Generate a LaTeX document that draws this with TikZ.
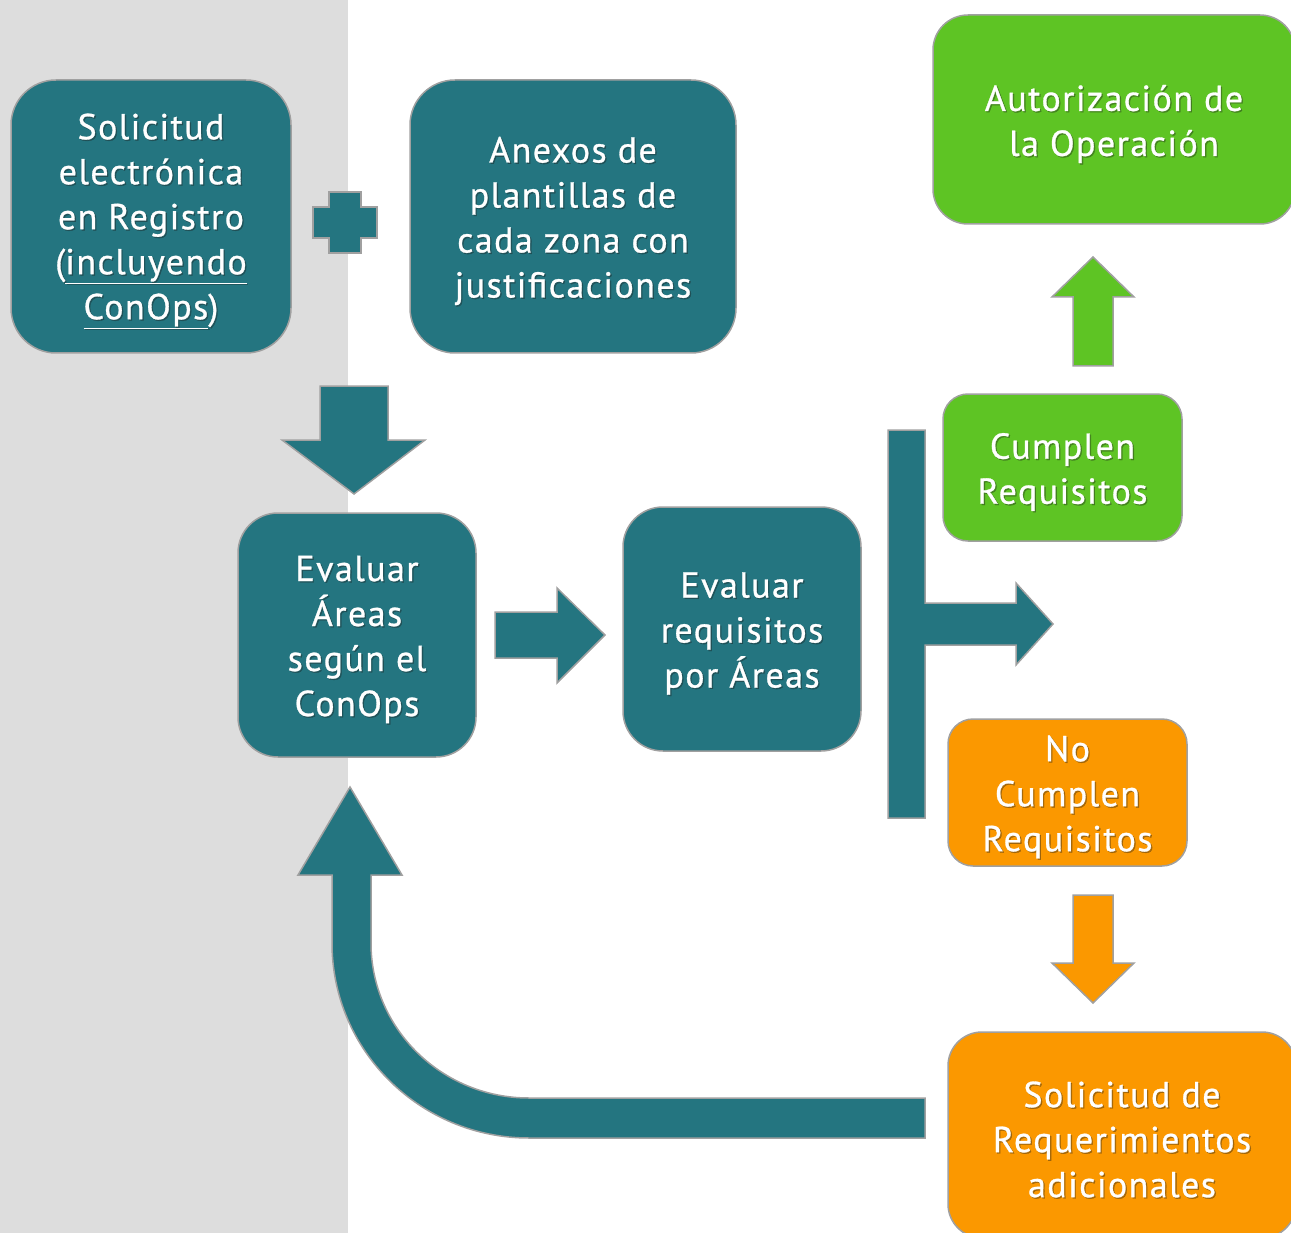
\documentclass[tikz,border=0pt]{standalone}
\usepackage{fontspec}
\setmainfont[LetterSpace=4,FakeBold=0.8]{PT Sans}
\definecolor{tealc}{RGB}{36,117,128}
\definecolor{greenc}{RGB}{94,196,36}
\definecolor{orangec}{RGB}{251,152,0}
\definecolor{bandc}{RGB}{221,221,221}
\definecolor{edgec}{RGB}{160,160,160}
\definecolor{shadowc}{RGB}{30,30,30}
\tikzset{
  box/.style={draw=edgec, line width=1.5pt, inner sep=0pt},
  tealbox/.style={box, fill=tealc},
  greenbox/.style={box, fill=greenc},
  orangebox/.style={box, fill=orangec},
  lbl/.style={inner sep=0pt, align=center, text=white, font=\fontsize{36}{45}\selectfont},
  lblshadow/.style={lbl, text=shadowc, opacity=0.35},
  blockarrow/.style={draw=edgec, line width=1.5pt, line join=miter},
}
\newcommand\boxtext[3]{%
  \node[lblshadow] (#2s) at ([xshift=1.3pt,yshift=-5.8pt]#1.center) {#3};
  \node[lbl] (#2) at ([yshift=-4.5pt]#1.center) {#3};}
\begin{document}
\begin{tikzpicture}[x=1pt,y=-1pt]
\useasboundingbox (0,0) rectangle (1291,1233);
\fill[bandc] (0,0) rectangle (348,1233);

% boxes
\node[tealbox, minimum width=280pt, minimum height=273pt, rounded corners=45pt] (sol) at (151,216.5) {};
\node[tealbox, minimum width=326pt, minimum height=273pt, rounded corners=45pt] (anx) at (573,216.5) {};
\node[greenbox, minimum width=362pt, minimum height=209pt, rounded corners=35pt] (aut) at (1114,119.5) {};
\node[greenbox, minimum width=239pt, minimum height=147pt, rounded corners=25pt] (cum) at (1062.5,467.5) {};
\node[orangebox, minimum width=239pt, minimum height=147pt, rounded corners=25pt] (nocum) at (1067.5,792.5) {};
\node[orangebox, minimum width=348pt, minimum height=206pt, rounded corners=34pt] (req) at (1122,1135) {};
\node[tealbox, minimum width=238pt, minimum height=244pt, rounded corners=40pt] (eva) at (357,635) {};
\node[tealbox, minimum width=238pt, minimum height=244pt, rounded corners=40pt] (evr) at (742,629) {};

% texts
\boxtext{sol}{solt}{Solicitud\\electrónica\\en Registro\\(\underline{incluyendo}\\\underline{ConOps})}
\boxtext{anx}{anxt}{Anexos de\\plantillas de\\cada zona con\\justificaciones}
\boxtext{aut}{autt}{Autorización de\\la Operación}
\boxtext{cum}{cumt}{Cumplen\\Requisitos}
\boxtext{nocum}{nocumt}{No\\Cumplen\\Requisitos}
\boxtext{req}{reqt}{Solicitud de\\Requerimientos\\adicionales}
\boxtext{eva}{evat}{Evaluar\\Áreas\\según el\\ConOps}
\boxtext{evr}{evrt}{Evaluar\\requisitos\\por Áreas}

% plus sign
\draw[blockarrow, fill=tealc] (329,192) -- (361,192) -- (361,207) -- (377,207) -- (377,238) -- (361,238)
  -- (361,253) -- (329,253) -- (329,238) -- (313,238) -- (313,207) -- (329,207) -- cycle;

% down teal arrow
\draw[blockarrow, fill=tealc] (320,386) -- (388,386) -- (388,440) -- (425,440) -- (354,494)
  -- (282,440) -- (320,440) -- cycle;

% right teal arrow
\draw[blockarrow, fill=tealc] (495,612) -- (557,612) -- (557,588) -- (605,635) -- (557,683)
  -- (557,658) -- (495,658) -- cycle;

% bar with branch arrow
\draw[blockarrow, fill=tealc] (888,430) -- (925,430) -- (925,603) -- (1016,603) -- (1016,583)
  -- (1053,624) -- (1016,665) -- (1016,645) -- (925,645) -- (925,818) -- (888,818) -- cycle;

% green up arrow
\draw[blockarrow, fill=greenc] (1073,366) -- (1073,297) -- (1052,297) -- (1093,257) -- (1134,297)
  -- (1113,297) -- (1113,366) -- cycle;

% orange down arrow
\draw[blockarrow, fill=orangec] (1073,895) -- (1113,895) -- (1113,963) -- (1134,963) -- (1093,1003)
  -- (1052,963) -- (1073,963) -- cycle;

% curved return arrow
\draw[blockarrow, fill=tealc] (925,1098) -- (529,1098)
  .. controls (441.7,1098) and (371,1028.6) .. (371,943)
  -- (371,875) -- (402,875) -- (350,787) -- (298,875) -- (332,875) -- (332,943)
  .. controls (332,1050.7) and (420.2,1138) .. (529,1138)
  -- (925,1138) -- cycle;
\end{tikzpicture}
\end{document}
